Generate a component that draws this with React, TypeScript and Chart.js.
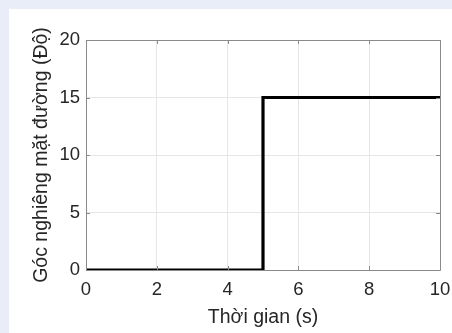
import React, { useEffect, useRef } from "react";
import { Chart, registerables } from "chart.js";

Chart.register(...registerables);

const timeValues: number[] = [0, 5, 5, 10];
const angleValues: number[] = [0, 0, 15, 15];
const xTitle = "Thời gian (s)";
const yTitle = "Góc nghiêng mặt đường (Độ)";

const FONT = "'Liberation Sans', Arial, Helvetica, sans-serif";
const TEXT = "#262626";

const framePlugin = {
  id: "frameBox",
  afterDatasetsDraw(chart: any) {
    const { ctx, chartArea, scales } = chart;
    const { left, right, top, bottom } = chartArea;
    ctx.save();
    ctx.strokeStyle = "#8a8a8a";
    ctx.lineWidth = 1;
    ctx.beginPath();
    ctx.rect(Math.round(left) + 0.5, Math.round(top) + 0.5, Math.round(right - left), Math.round(bottom - top));
    ctx.stroke();
    const tl = 4;
    ctx.beginPath();
    scales.x.ticks.forEach((t: any) => {
      const px = Math.round(scales.x.getPixelForValue(t.value)) + 0.5;
      ctx.moveTo(px, bottom);
      ctx.lineTo(px, bottom - tl);
      ctx.moveTo(px, top);
      ctx.lineTo(px, top + tl);
    });
    scales.y.ticks.forEach((t: any) => {
      const py = Math.round(scales.y.getPixelForValue(t.value)) + 0.5;
      ctx.moveTo(left, py);
      ctx.lineTo(left + tl, py);
      ctx.moveTo(right, py);
      ctx.lineTo(right - tl, py);
    });
    ctx.stroke();
    ctx.restore();
  },
};

function StepChart() {
  const ref = useRef<HTMLCanvasElement | null>(null);
  useEffect(() => {
    if (!ref.current) return;
    const chart = new Chart(ref.current, {
      type: "line",
      data: {
        datasets: [
          {
            data: timeValues.map((t, i) => ({ x: t, y: angleValues[i] })),
            borderColor: "#000000",
            borderWidth: 3.2,
            pointRadius: 0,
            fill: false,
            tension: 0,
          },
        ],
      },
      options: {
        animation: false,
        responsive: false,
        devicePixelRatio: 1,
        layout: { padding: { left: 0, right: 12, top: 31, bottom: 0 } },
        plugins: { legend: { display: false }, tooltip: { enabled: false } },
        scales: {
          x: {
            type: "linear",
            min: 0,
            max: 10,
            ticks: { stepSize: 2, color: TEXT, font: { family: FONT, size: 18.5 }, padding: 9, maxRotation: 0 },
            grid: { color: "#e6e6e6", drawTicks: false },
            border: { display: false },
            title: { display: true, text: xTitle, color: TEXT, font: { family: FONT, size: 19.5 }, padding: { top: 0, bottom: 4 } },
            afterFit: (s: any) => {
              s.height = 63;
              s.paddingLeft = 0;
              s.paddingRight = 0;
            },
          },
          y: {
            type: "linear",
            min: 0,
            max: 20,
            ticks: { stepSize: 5, color: TEXT, font: { family: FONT, size: 18.5 }, padding: 6 },
            grid: { color: "#e6e6e6", drawTicks: false },
            border: { display: false },
            title: { display: true, text: yTitle, color: TEXT, font: { family: FONT, size: 19.5 }, padding: { top: 21, bottom: 0 } },
            afterFit: (s: any) => {
              s.width = 77;
              s.paddingTop = 0;
              s.paddingBottom = 0;
            },
          },
        },
      },
      plugins: [framePlugin],
    });
    return () => chart.destroy();
  }, []);
  return <canvas ref={ref} width={443} height={324} style={{ display: "block", width: 443, height: 324 }} />;
}

export default function App() {
  return (
    <div style={{ position: "fixed", left: 0, top: 0, width: 452, height: 333, background: "#e8edf8", overflow: "hidden" }}>
      <div style={{ position: "absolute", left: 9, top: 9, width: 443, height: 324, background: "#ffffff" }}>
        <StepChart />
      </div>
    </div>
  );
}
